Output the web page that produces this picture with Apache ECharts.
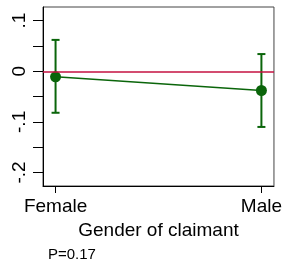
<!DOCTYPE html>
<html>
<head>
<meta charset="utf-8">
<script src="https://cdn.jsdelivr.net/npm/echarts@6/dist/echarts.min.js"></script>
<style>
  html, body { margin: 0; padding: 0; background: #fff; }
  #chart { width: 285px; height: 266px; }
</style>
</head>
<body>
<div id="chart"></div>
<script>
// data
var categories = ['Female', 'Male'];
var estimates = [-0.011, -0.038];
var ciLower = [-0.082, -0.110];
var ciUpper = [0.062, 0.034];
var yTickValues = [-0.2, -0.15, -0.1, -0.05, 0, 0.05, 0.1];
var yLabelValues = [-0.2, -0.1, 0, 0.1];
var refLine = 0;
var pValueText = 'P=0.17';

var green = '#0a650a';
var red = '#c41040';
var font = "'Liberation Sans', Arial, sans-serif";

var chart = echarts.init(document.getElementById('chart'));

var pointData = estimates.map(function (v, i) { return [i, v]; });
var ciData = estimates.map(function (v, i) { return [i, ciLower[i], ciUpper[i]]; });

function yFormat(v) {
  if (Math.abs(v) < 1e-9) return '0';
  return (v < 0 ? '-' : '') + '.' + Math.round(Math.abs(v) * 10);
}

var option = {
  animation: false,
  grid: {
    left: 43, right: 9, top: 7, bottom: 80,
    show: true, borderColor: '#444', borderWidth: 1
  },
  xAxis: {
    type: 'value',
    min: -0.061, max: 1.061,
    name: 'Gender of claimant',
    nameLocation: 'middle',
    nameGap: 33,
    nameTextStyle: { color: '#000', fontSize: 19, fontFamily: font },
    axisLine: { show: true, onZero: false, lineStyle: { color: '#000', width: 1 } },
    axisTick: { show: true, length: 7, customValues: [0, 1], lineStyle: { color: '#000' } },
    axisLabel: {
      customValues: [0, 1],
      margin: 11,
      color: '#000', fontSize: 19, fontFamily: font,
      formatter: function (v) { return categories[Math.round(v)]; }
    },
    splitLine: { show: false }
  },
  yAxis: {
    type: 'value',
    min: -0.2267, max: 0.127,
    axisLine: { show: true, onZero: false, lineStyle: { color: '#000', width: 1 } },
    axisTick: { show: true, length: 10, customValues: yTickValues, lineStyle: { color: '#000' } },
    axisLabel: {
      customValues: yLabelValues,
      rotate: 90,
      margin: 14,
      color: '#000', fontSize: 19, fontFamily: font,
      formatter: yFormat
    },
    splitLine: { show: false }
  },
  graphic: [{
    type: 'text',
    left: 48, top: 247,
    style: { text: pValueText, fill: '#000', font: '15px ' + font }
  }],
  series: [
    {
      type: 'line',
      data: [],
      markLine: {
        silent: true,
        symbol: 'none',
        label: { show: false },
        lineStyle: { color: red, width: 1.5, type: 'solid' },
        data: [{ yAxis: refLine }]
      }
    },
    {
      type: 'custom',
      data: ciData,
      renderItem: function (params, api) {
        var top = api.coord([api.value(0), api.value(2)]);
        var bot = api.coord([api.value(0), api.value(1)]);
        var cap = 4;
        var st = { stroke: green, lineWidth: 2 };
        return {
          type: 'group',
          children: [
            { type: 'line', shape: { x1: top[0], y1: top[1], x2: bot[0], y2: bot[1] }, style: st },
            { type: 'line', shape: { x1: top[0] - cap, y1: top[1], x2: top[0] + cap, y2: top[1] }, style: st },
            { type: 'line', shape: { x1: bot[0] - cap, y1: bot[1], x2: bot[0] + cap, y2: bot[1] }, style: st }
          ]
        };
      },
      z: 3
    },
    {
      type: 'line',
      data: pointData,
      symbol: 'circle',
      symbolSize: 11,
      itemStyle: { color: green },
      lineStyle: { color: green, width: 1.5 },
      z: 4
    }
  ]
};

chart.setOption(option);
</script>
</body>
</html>
